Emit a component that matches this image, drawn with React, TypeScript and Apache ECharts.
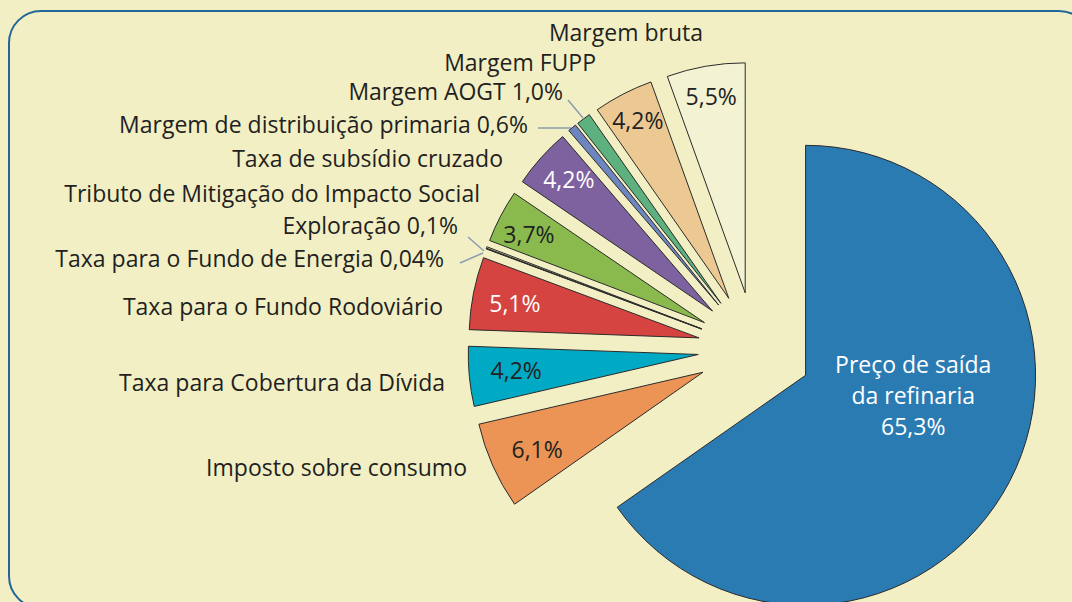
import React, { useEffect, useRef } from "react";
import * as echarts from "echarts";

// ---- data ----
const categories = [
  "Preço de saída da refinaria",
  "Imposto sobre consumo",
  "Taxa para Cobertura da Dívida",
  "Taxa para o Fundo Rodoviário",
  "Taxa para o Fundo de Energia",
  "Exploração",
  "Tributo de Mitigação do Impacto Social",
  "Taxa de subsídio cruzado",
  "Margem de distribuição primaria",
  "Margem AOGT",
  "Margem FUPP",
  "Margem bruta",
];
const shares = [65.3, 6.1, 4.2, 5.1, 0.04, 0.1, 3.7, 4.2, 0.6, 1.0, 4.2, 5.5];
const shareLabels = ["65,3%", "6,1%", "4,2%", "5,1%", "0,04%", "0,1%", "3,7%", "4,2%", "0,6%", "1,0%", "4,2%", "5,5%"];
// where the percentage is shown: inside the slice or appended to the outer name
const valueInside = [true, true, true, true, false, false, true, true, false, false, true, true];
const valueInName = [false, false, false, false, true, true, false, false, true, true, false, false];

// ---- styles / layout ----
const colors = ["#2b7bb3", "#eb9455", "#00aac4", "#d64441", "#1e1e1e", "#e6e2b6", "#8aba4e", "#7e62a0", "#6d86bf", "#5db17e", "#ecc993", "#f3f2d2"];
const insideTextColors = ["#ffffff", "#222222", "#222222", "#ffffff", "#222", "#222", "#222222", "#ffffff", "#222", "#222", "#222222", "#222222"];
// small nudges of the inside percentage labels [dx, dy]
const insideNudge: [number, number][] = [
  [3, -35], [15, -4], [15, -3], [10, 4], [0, 0], [0, 0], [0, 3], [4, 0], [0, 0], [0, 0], [0, -3], [0, -2],
];
// right edge x, centre y of each outer name label (index matches categories)
const nameLabelPos: ([number, number] | null)[] = [
  null,
  [467, 467],
  [445, 382],
  [443, 306],
  [444, 258],
  [458, 225],
  [480, 193],
  [503, 158],
  [528, 124],
  [563, 91],
  [596, 62],
  [703, 32],
];
const leaderLines: [number, number, number, number][] = [
  [568, 100, 583, 118],
  [538, 128, 571, 128],
  [468, 237, 484, 251],
  [460, 263, 483, 253],
];

const FONT = "'Open Sans', 'Noto Sans', sans-serif";
const FS = 23;
const CENTER = [755, 349];
const RADIUS = 230;
const OFFSET = 57;
const BG = "#f2efc5";

export default function App() {
  const ref = useRef<HTMLDivElement>(null);
  useEffect(() => {
    if (!ref.current) return;
    const chart = echarts.init(ref.current, undefined, { renderer: "svg" });

    const mainData = shares.map((v, i) => ({
      name: categories[i],
      value: v,
      selected: true,
      itemStyle: { color: colors[i] },
      label:
        i === 0
          ? {
              show: true,
              position: "inside",
              formatter: "Preço de saída\nda refinaria\n" + shareLabels[0],
              color: "#fff",
              fontSize: FS,
              lineHeight: 31,
              fontFamily: FONT,
            }
          : { show: false },
    }));

    const labelData = shares.map((v, i) => ({
      name: categories[i],
      value: v,
      selected: true,
      label: {
        show: i !== 0 && valueInside[i],
        color: insideTextColors[i],
      },
    }));

    const graphics: any[] = [
      {
        type: "rect",
        shape: { x: 9, y: 11, width: 1082, height: 597, r: 32 },
        style: { fill: "none", stroke: "#22669a", lineWidth: 2 },
        z: 0,
      },
    ];
    nameLabelPos.forEach((p, i) => {
      if (!p) return;
      graphics.push({
        type: "text",
        x: p[0],
        y: p[1],
        style: {
          text: categories[i] + (valueInName[i] ? " " + shareLabels[i] : ""),
          fill: "#231f20",
          font: `${FS}px ${FONT}`,
          textAlign: "right",
          textVerticalAlign: "middle",
        },
      });
    });
    leaderLines.forEach((l) => {
      graphics.push({
        type: "line",
        shape: { x1: l[0], y1: l[1], x2: l[2], y2: l[3] },
        style: { stroke: "#8d9cae", lineWidth: 1.5 },
      });
    });

    const nudge = (p: any) => ({ dx: insideNudge[p.dataIndex][0], dy: insideNudge[p.dataIndex][1] });

    chart.setOption({
      animation: false,
      backgroundColor: BG,
      graphic: graphics,
      series: [
        {
          type: "pie",
          center: CENTER,
          radius: RADIUS,
          startAngle: 90,
          clockwise: true,
          selectedMode: "multiple",
          selectedOffset: OFFSET,
          avoidLabelOverlap: false,
          silent: true,
          emphasis: { disabled: true, scale: false },
          itemStyle: { borderColor: "#2b2b2b", borderWidth: 1 },
          select: { itemStyle: { borderColor: "#2b2b2b", borderWidth: 1 } },
          labelLine: { show: false },
          labelLayout: nudge,
          data: mainData,
        },
        {
          type: "pie",
          center: CENTER,
          radius: [160, RADIUS],
          startAngle: 90,
          clockwise: true,
          selectedMode: "multiple",
          selectedOffset: OFFSET,
          avoidLabelOverlap: false,
          silent: true,
          emphasis: { disabled: true, scale: false },
          itemStyle: { color: "rgba(0,0,0,0)", borderWidth: 0 },
          select: { itemStyle: { color: "rgba(0,0,0,0)", borderWidth: 0 } },
          labelLine: { show: false },
          labelLayout: nudge,
          label: {
            position: "inside",
            formatter: (p: any) => shareLabels[p.dataIndex],
            fontSize: FS,
            fontFamily: FONT,
          },
          data: labelData,
        },
      ],
    });
    return () => chart.dispose();
  }, []);
  return (
    <div
      ref={ref}
      style={{ position: "fixed", left: 0, top: 0, width: 1072, height: 602, background: BG }}
    />
  );
}
